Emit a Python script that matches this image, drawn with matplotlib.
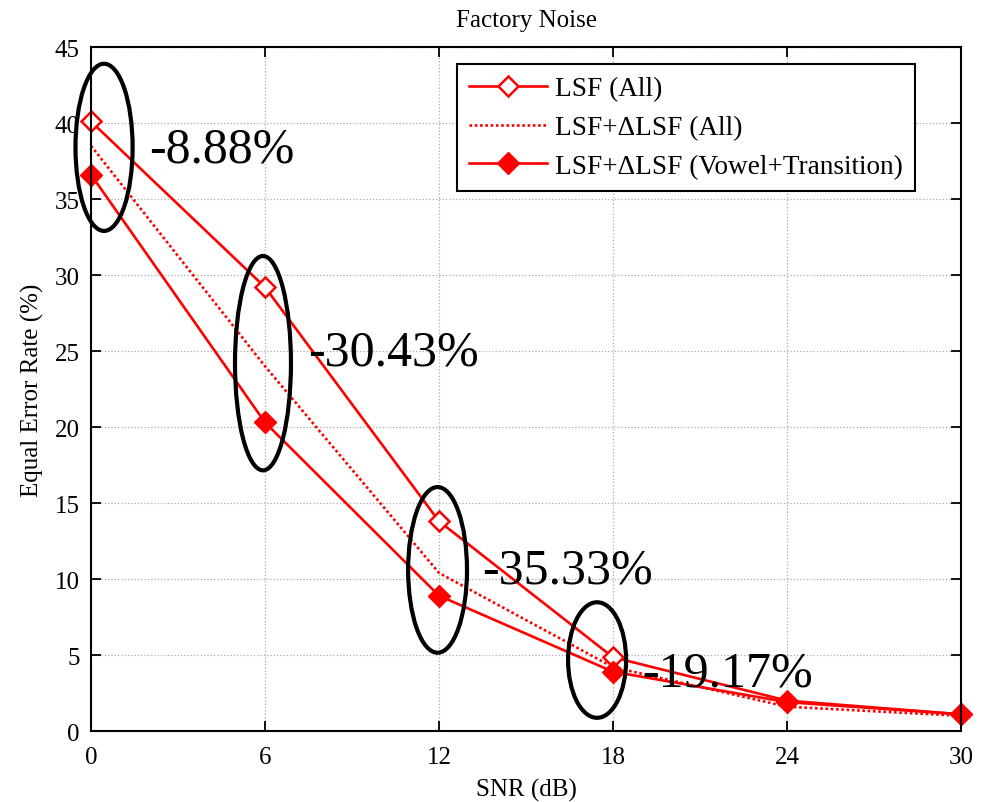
import matplotlib.pyplot as plt
from matplotlib.patches import Ellipse

plt.rcParams['font.family'] = ['Liberation Serif', 'DejaVu Serif']

snr = [0, 6, 12, 18, 24, 30]
lsf_all = [40.1, 29.2, 13.8, 4.85, 2.0, 1.1]
lsf_dlsf_all = [38.5, 24.0, 10.4, 4.2, 1.6, 1.0]
lsf_dlsf_vt = [36.6, 20.3, 8.9, 3.9, 1.9, 1.1]

# circled groups: centre x, centre y, width, height, label
ell_x = [0.45, 5.93, 11.95, 17.45]
ell_y = [38.4, 24.2, 10.6, 4.67]
ell_w = [1.97, 1.93, 2.03, 2.0]
ell_h = [11.0, 14.1, 10.9, 7.6]
gains = ['-8.88%', '-30.43%', '-35.33%', '-19.17%']
gain_x = [2.0, 7.5, 13.5, 19.0]
gain_y = [38.3, 24.9, 10.6, 3.8]

fig = plt.figure(figsize=(9.87, 8.03), dpi=100)
ax = fig.add_axes([0.0922, 0.0884, 0.8815, 0.8518])

ax.plot(snr, lsf_all, '-', color='red', lw=1.9, marker='D', ms=10,
        mfc='white', mec='red', mew=1.8, label='LSF (All)', clip_on=False)
ax.plot(snr, lsf_dlsf_all, color='red', lw=1.9, ls=(0, (1, 1)),
        label='LSF+ΔLSF (All)', clip_on=False)
ax.plot(snr, lsf_dlsf_vt, '-', color='red', lw=1.9, marker='D', ms=11,
        mfc='red', mec='red', label='LSF+ΔLSF (Vowel+Transition)', clip_on=False)

for cx, cy, w, h in zip(ell_x, ell_y, ell_w, ell_h):
    ax.add_patch(Ellipse((cx, cy), w, h, fill=False, ec='black', lw=3,
                         zorder=5, clip_on=False))
for tx, ty, s in zip(gain_x, gain_y, gains):
    ax.text(tx, ty, s, fontsize=36, va='center', ha='left', zorder=6)

ax.set_xlim(0, 30)
ax.set_ylim(0, 45)
ax.set_xticks(snr)
ax.set_yticks(range(0, 46, 5))
ax.tick_params(direction='in', top=True, right=True, labelsize=18,
               length=7, width=1.3, pad=8)
ax.tick_params(axis='x', pad=11)
ax.grid(True, ls=':', color='#aaaaaa', lw=0.9)
for sp in ax.spines.values():
    sp.set_linewidth(1.5)

ax.set_xlabel('SNR (dB)', fontsize=18, labelpad=7)
ax.set_ylabel('Equal Error Rate (%)', fontsize=18, labelpad=8)
ax.set_title('Factory Noise', fontsize=18, pad=15)

leg = ax.legend(loc='upper right', bbox_to_anchor=(0.947, 0.975), fontsize=19.6,
                fancybox=False, edgecolor='black', framealpha=1,
                handlelength=2.85, handletextpad=0.3, borderpad=0.45,
                labelspacing=0.5, borderaxespad=0)
leg.get_frame().set_linewidth(1.5)

fig.savefig('out.png', dpi=100)
